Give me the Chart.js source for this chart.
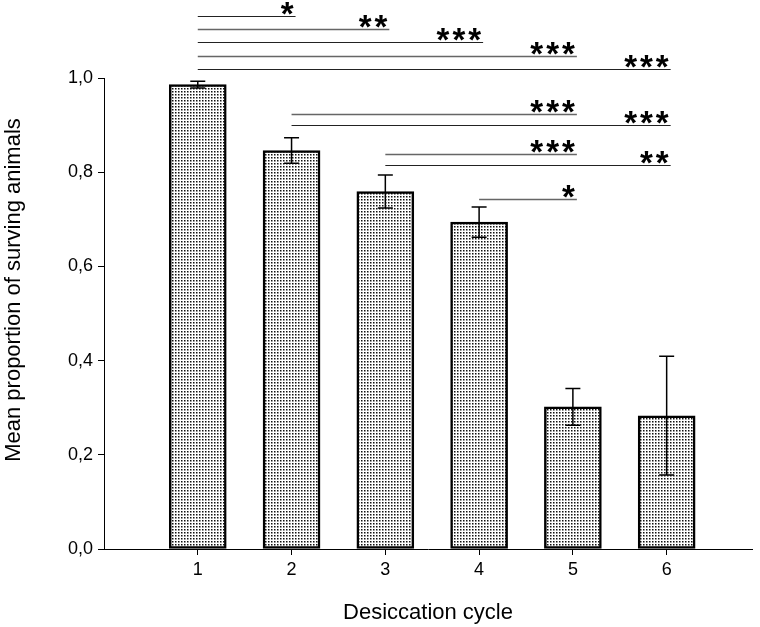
<!DOCTYPE html>
<html>
<head>
<meta charset="utf-8">
<script src="https://cdn.jsdelivr.net/npm/chart.js@4"></script>
<style>
  body { margin: 0; background: #fff; }
</style>
</head>
<body>
<canvas id="chart" width="760" height="627"></canvas>
<script>
// data
const cycles = [1, 2, 3, 4, 5, 6];
const means = [0.986, 0.846, 0.759, 0.694, 0.302, 0.283];
const errors = [0.007, 0.027, 0.035, 0.032, 0.039, 0.126];
const yTicks = [0, 0.2, 0.4, 0.6, 0.8, 1.0];

// significance brackets: from cycle, to cycle, height, stars
const sigFrom = [1, 1, 1, 1, 1, 2, 2, 3, 3, 4];
const sigTo = [2, 3, 4, 5, 6, 5, 6, 5, 6, 5];
const sigY = [1.132, 1.104, 1.076, 1.047, 1.019, 0.924, 0.900, 0.839, 0.815, 0.743];
const sigLabel = ['*', '**', '***', '***', '***', '***', '***', '***', '**', '*'];

const yTitle = 'Mean proportion of surving animals';
const FONT = "'Liberation Sans', Arial, sans-serif";

const makeDots = () => {
  const c = document.createElement('canvas');
  c.width = 3;
  c.height = 3;
  const g = c.getContext('2d');
  g.fillStyle = '#fff';
  g.fillRect(0, 0, 3, 3);
  g.fillStyle = '#bbb';
  g.fillRect(2, 2, 1, 1);
  g.fillStyle = '#888';
  g.fillRect(2, 1, 1, 1);
  g.fillRect(1, 2, 1, 1);
  g.fillStyle = '#111';
  g.fillRect(1, 1, 1, 1);
  return g.createPattern(c, 'repeat');
};

const annotate = {
  id: 'annotate',
  afterDatasetsDraw(chart) {
    const { ctx } = chart;
    const x = chart.scales.x;
    const y = chart.scales.y;
    const bars = chart.getDatasetMeta(0).data;

    ctx.save();
    ctx.strokeStyle = '#000';
    ctx.lineWidth = 1.5;
    bars.forEach((bar, i) => {
      const top = y.getPixelForValue(means[i] + errors[i]);
      const bot = y.getPixelForValue(means[i] - errors[i]);
      ctx.beginPath();
      ctx.moveTo(bar.x, top);
      ctx.lineTo(bar.x, bot);
      ctx.moveTo(bar.x - 7.5, top);
      ctx.lineTo(bar.x + 7.5, top);
      ctx.moveTo(bar.x - 7.5, bot);
      ctx.lineTo(bar.x + 7.5, bot);
      ctx.stroke();
    });

    ctx.font = 'bold 33px ' + FONT;
    ctx.letterSpacing = '3px';
    ctx.textAlign = 'right';
    ctx.textBaseline = 'alphabetic';
    ctx.fillStyle = '#000';
    sigFrom.forEach((from, i) => {
      const yy = Math.round(y.getPixelForValue(sigY[i])) + 0.5;
      const x0 = x.getPixelForValue(from);
      const x1 = x.getPixelForValue(sigTo[i]) + 4;
      ctx.strokeStyle = i % 2 ? '#666' : '#222';
      ctx.lineWidth = i % 2 ? 1.6 : 1.2;
      ctx.beginPath();
      ctx.moveTo(x0, yy);
      ctx.lineTo(x1, yy);
      ctx.stroke();
      ctx.fillText(sigLabel[i], x1 + 1, yy + 8);
    });
    ctx.letterSpacing = '0px';

    // y axis title, sits a bit above the axis middle in the original
    ctx.translate(14, 290);
    ctx.rotate(-Math.PI / 2);
    ctx.font = '22px ' + FONT;
    ctx.textAlign = 'center';
    ctx.textBaseline = 'middle';
    ctx.fillText(yTitle, 0, 0);
    ctx.restore();
  },
};

const ctx = document.getElementById('chart').getContext('2d');

new Chart(ctx, {
  type: 'bar',
  data: {
    datasets: [{
      data: cycles.map((c, i) => ({ x: c, y: means[i] })),
      backgroundColor: makeDots(),
      borderColor: '#000',
      borderWidth: 2.5,
      borderSkipped: false,
      barThickness: 57,
    }],
  },
  options: {
    responsive: false,
    animation: false,
    devicePixelRatio: 1,
    layout: { padding: { top: 78, right: 8, left: 0, bottom: 0 } },
    plugins: {
      legend: { display: false },
      tooltip: { enabled: false },
    },
    scales: {
      x: {
        type: 'linear',
        min: 0,
        max: 6.91,
        offset: false,
        afterBuildTicks: (scale) => {
          scale.ticks = cycles.map((v) => ({ value: v }));
        },
        afterFit: (scale) => {
          scale.height = 78;
        },
        grid: { offset: false, drawOnChartArea: false, drawTicks: true, tickLength: 6, color: '#000' },
        border: { display: true, color: '#000', width: 1 },
        ticks: {
          color: '#000',
          font: { family: FONT, size: 18 },
          padding: 4,
          callback: (v) => String(v),
        },
        title: {
          display: true,
          text: 'Desiccation cycle',
          color: '#000',
          font: { family: FONT, size: 22 },
          padding: { top: 0, bottom: 1 },
        },
      },
      y: {
        min: 0,
        max: 1,
        afterBuildTicks: (scale) => {
          scale.ticks = yTicks.map((v) => ({ value: v }));
        },
        afterFit: (scale) => {
          scale.width = 104;
        },
        grid: { drawOnChartArea: false, drawTicks: true, tickLength: 6, color: '#000' },
        border: { display: true, color: '#000', width: 1 },
        ticks: {
          color: '#000',
          font: { family: FONT, size: 18 },
          padding: 5,
          callback: (v) => v.toFixed(1).replace('.', ','),
        },
      },
    },
  },
  plugins: [annotate],
});
</script>
</body>
</html>
